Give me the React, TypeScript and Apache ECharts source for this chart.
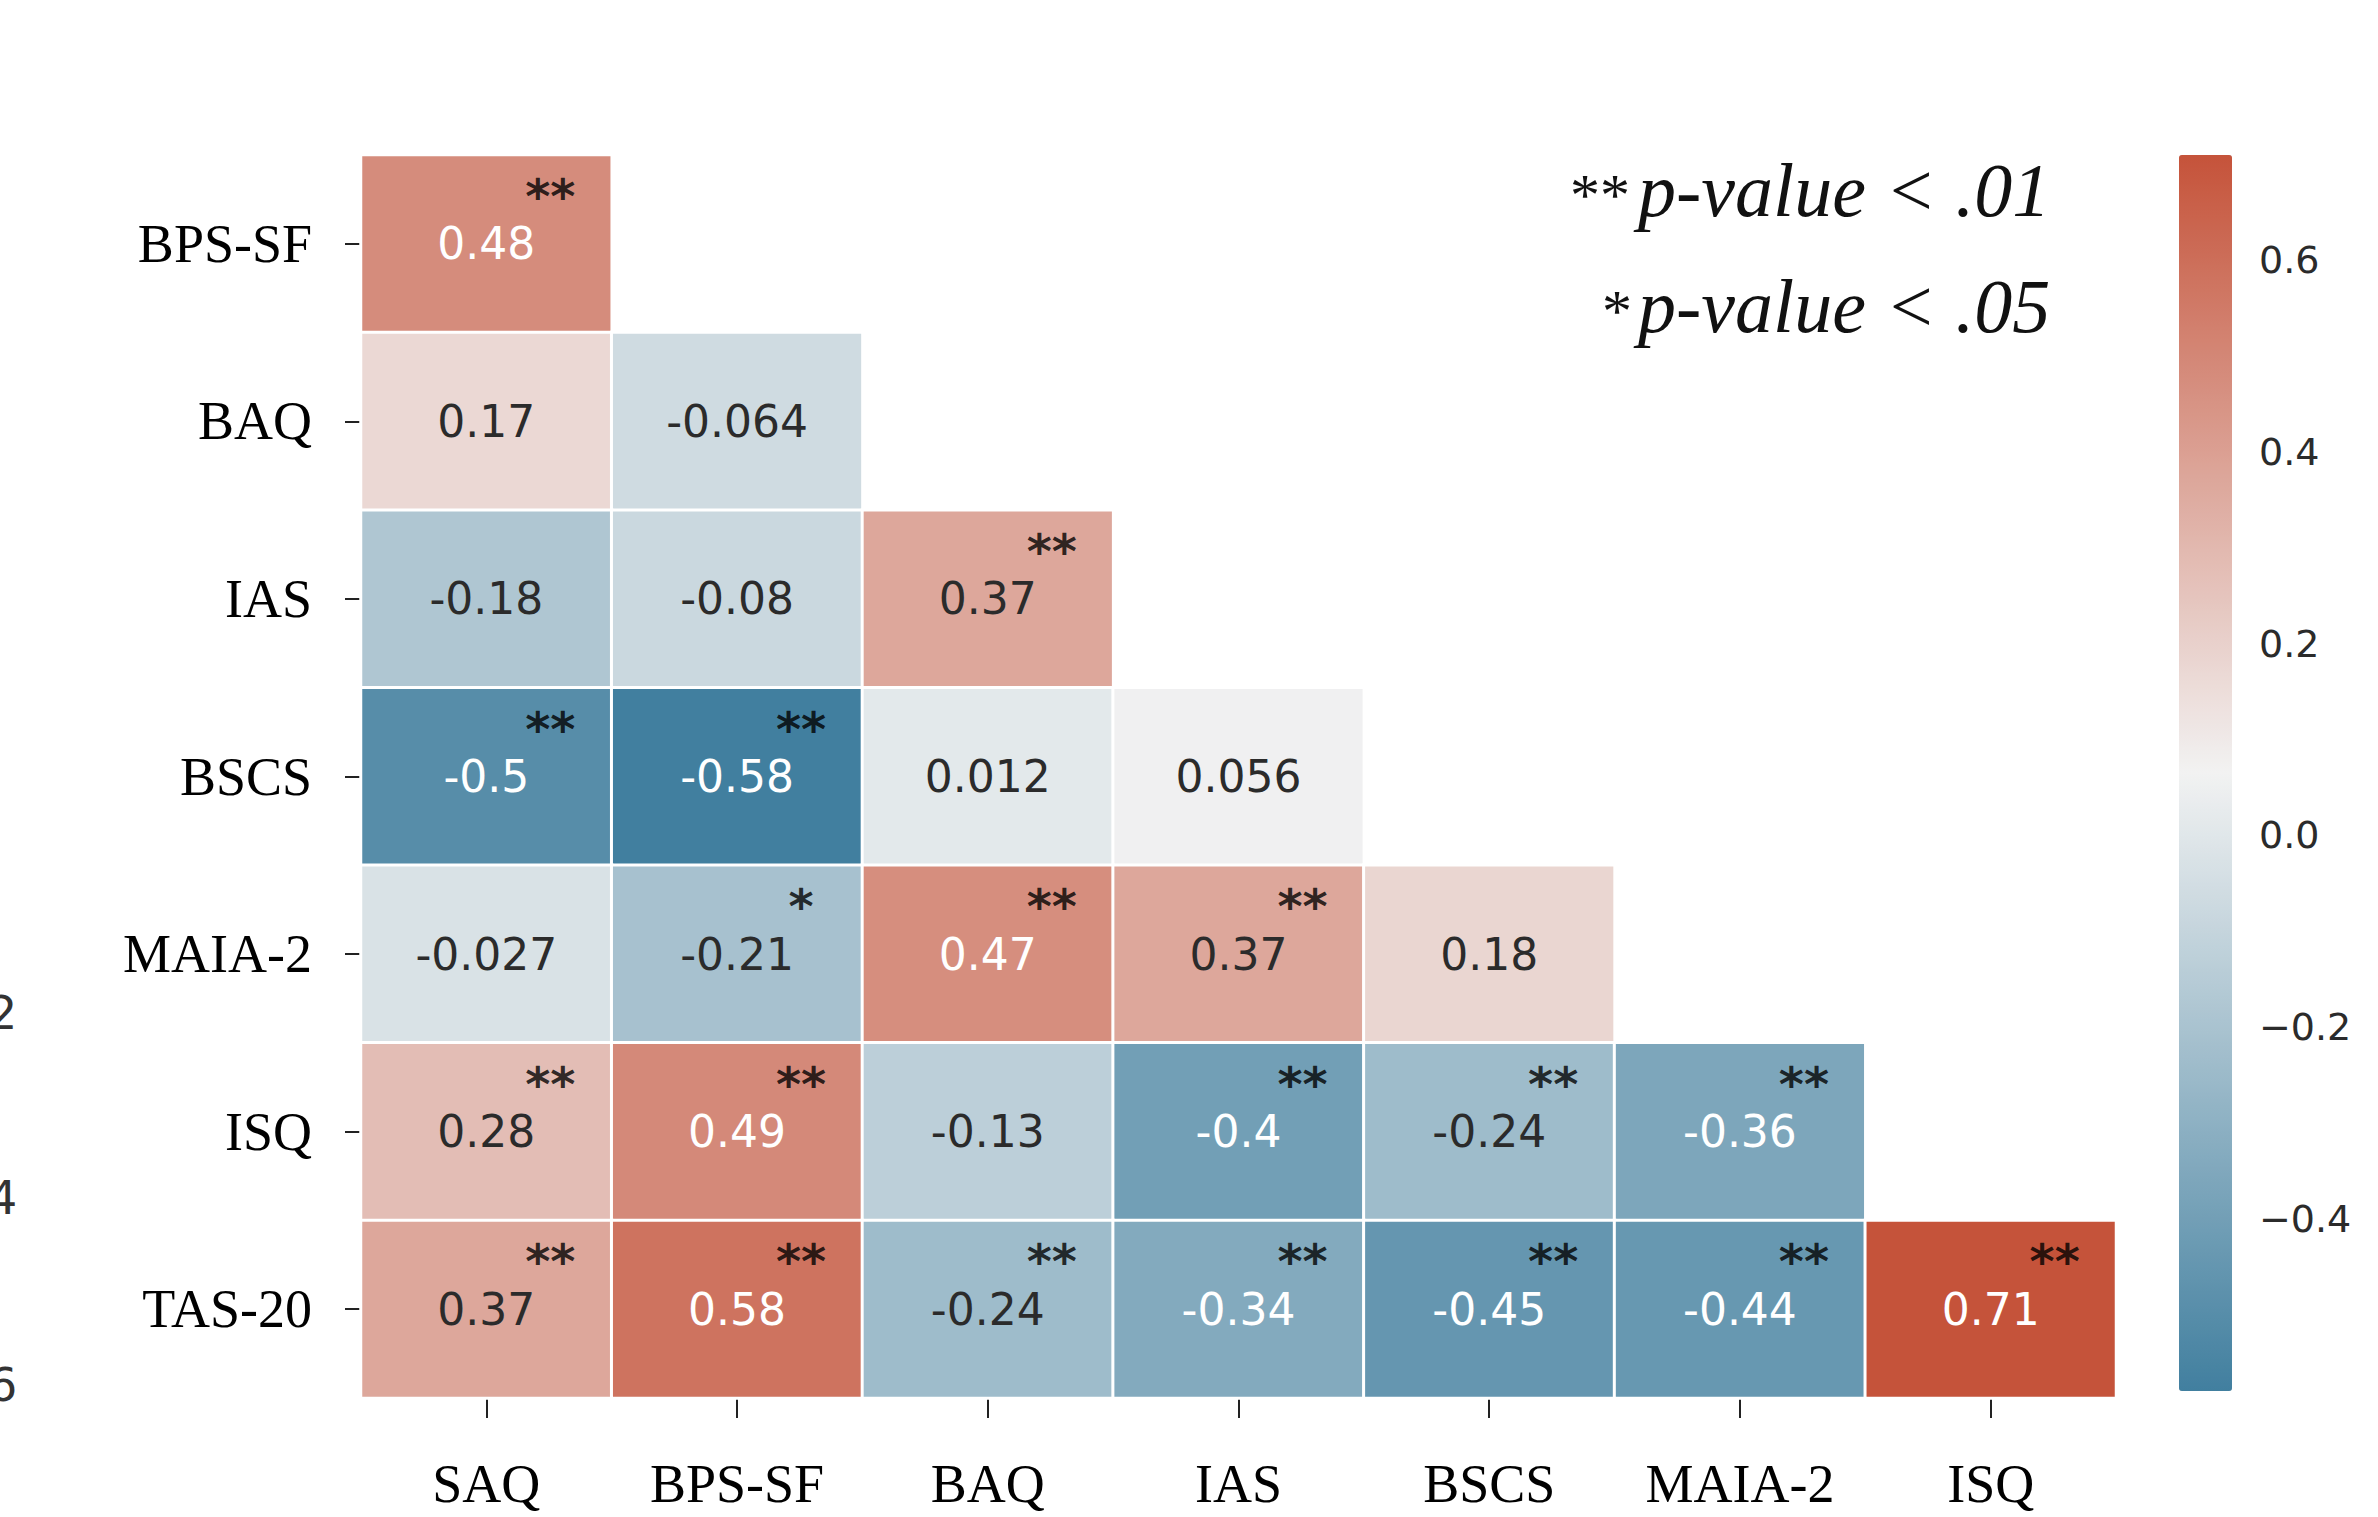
import React, { useEffect, useRef } from "react";
import * as echarts from "echarts";

// ---- data ----
const rowLabels = ["BPS-SF", "BAQ", "IAS", "BSCS", "MAIA-2", "ISQ", "TAS-20"];
const colLabels = ["SAQ", "BPS-SF", "BAQ", "IAS", "BSCS", "MAIA-2", "ISQ"];

const rBPSSF = [0.48];
const rBAQ = [0.17, -0.064];
const rIAS = [-0.18, -0.08, 0.37];
const rBSCS = [-0.5, -0.58, 0.012, 0.056];
const rMAIA2 = [-0.027, -0.21, 0.47, 0.37, 0.18];
const rISQ = [0.28, 0.49, -0.13, -0.4, -0.24, -0.36];
const rTAS20 = [0.37, 0.58, -0.24, -0.34, -0.45, -0.44, 0.71];

const sBPSSF = ["**"];
const sBAQ = ["", ""];
const sIAS = ["", "", "**"];
const sBSCS = ["**", "**", "", ""];
const sMAIA2 = ["", "*", "**", "**", ""];
const sISQ = ["**", "**", "", "**", "**", "**"];
const sTAS20 = ["**", "**", "**", "**", "**", "**", "**"];

const colorbarTicks = [-0.4, -0.2, 0, 0.2, 0.4, 0.6];
const colorMin = -0.58;
const colorMax = 0.71;

const valueRows = [rBPSSF, rBAQ, rIAS, rBSCS, rMAIA2, rISQ, rTAS20];
const starRows = [sBPSSF, sBAQ, sIAS, sBSCS, sMAIA2, sISQ, sTAS20];

export default function App() {
  const ref = useRef<HTMLDivElement>(null);

  useEffect(() => {
    if (!ref.current) return;
    const chart = echarts.init(ref.current, null, { renderer: "svg" });

    const heatData: any[] = [];
    valueRows.forEach((row, r) => {
      row.forEach((v, c) => {
        const light = v > 0.4 || v < -0.3;
        heatData.push({
          value: [c, r, v],
          label: { color: light ? "#ffffff" : "#2b2b2b" },
        });
      });
    });
    const starData: any[] = [];
    starRows.forEach((row, r) => {
      row.forEach((s, c) => {
        if (s) starData.push([c, r, s]);
      });
    });

    const gridL = 361, gridT = 155, gridW = 1755, gridH = 1243;
    const cbL = 2179, cbT = 155, cbW = 53, cbH = 1236;

    chart.setOption({
      animation: false,
      backgroundColor: "#ffffff",
      grid: [
        { left: gridL, top: gridT, width: gridW, height: gridH },
        { left: cbL, top: cbT, width: cbW, height: cbH },
      ],
      xAxis: [
        {
          type: "category",
          data: colLabels,
          gridIndex: 0,
          position: "bottom",
          axisLine: { show: false },
          splitLine: { show: false },
          axisTick: {
            show: true,
            alignWithLabel: true,
            length: 20,
            lineStyle: { color: "#222", width: 2 },
          },
          axisLabel: {
            fontFamily: "Liberation Serif",
            fontSize: 54,
            color: "#000",
            margin: 59,
          },
        },
        { type: "value", gridIndex: 1, show: false, min: 0, max: 1 },
      ],
      yAxis: [
        {
          type: "category",
          data: rowLabels,
          gridIndex: 0,
          inverse: true,
          axisLine: { show: false },
          splitLine: { show: false },
          axisTick: {
            show: true,
            alignWithLabel: true,
            length: 16,
            lineStyle: { color: "#222", width: 2 },
          },
          axisLabel: {
            fontFamily: "Liberation Serif",
            fontSize: 54,
            color: "#000",
            margin: 49,
          },
        },
        {
          type: "value",
          gridIndex: 1,
          min: colorMin,
          max: colorMax,
          position: "right",
          axisLine: { show: false },
          splitLine: { show: false },
          axisTick: {
            show: true,
            length: 15,
            customValues: colorbarTicks,
            lineStyle: { color: "#333", width: 2 },
          },
          axisLabel: {
            customValues: colorbarTicks,
            margin: 27,
            fontFamily: "DejaVu Sans",
            fontSize: 38,
            color: "#2b2b2b",
            formatter: (v: number) => v.toFixed(1).replace("-", "\u2212"),
          },
        },
      ],
      visualMap: {
        type: "continuous",
        min: colorMin,
        max: colorMax,
        seriesIndex: 0,
        show: true,
        calculable: false,
        left: cbL,
        top: cbT,
        padding: 0,
        itemWidth: cbW,
        itemHeight: cbH,
        text: ["", ""],
        inRange: { color: ["#417f9f", "#f2f2f2", "#c5533a"] },
      },
      series: [
        {
          type: "heatmap",
          xAxisIndex: 0,
          yAxisIndex: 0,
          data: heatData,
          itemStyle: { borderColor: "#ffffff", borderWidth: 3 },
          label: {
            show: true,
            fontFamily: "DejaVu Sans",
            fontSize: 44,
            formatter: (p: any) => String(p.value[2]),
          },
          emphasis: { disabled: true },
        },
        {
          type: "scatter",
          xAxisIndex: 0,
          yAxisIndex: 0,
          symbolSize: 0,
          data: starData,
          label: {
            show: true,
            position: "inside",
            offset: [64, -48],
            fontFamily: "DejaVu Sans",
            fontWeight: "bold",
            fontSize: 48,
            color: "#000",
            formatter: (p: any) => p.value[2],
          },
          emphasis: { disabled: true },
          silent: true,
        },
        {
          type: "scatter",
          xAxisIndex: 1,
          yAxisIndex: 1,
          data: [],
        },
      ],
      graphic: [
        {
          type: "text",
          left: 1570,
          top: 165,
          style: { text: "**", font: "60px 'Liberation Serif'", fill: "#111" },
        },
        {
          type: "text",
          left: 1602,
          top: 281,
          style: { text: "*", font: "60px 'Liberation Serif'", fill: "#111" },
        },
        {
          type: "text",
          left: 1638,
          top: 152,
          style: {
            text: "p-value < .01",
            font: "italic 76px 'Liberation Serif'",
            fill: "#111",
          },
        },
        {
          type: "text",
          left: 1638,
          top: 268,
          style: {
            text: "p-value < .05",
            font: "italic 76px 'Liberation Serif'",
            fill: "#111",
          },
        },
        {
          type: "text",
          left: -12,
          top: 990,
          style: { text: "2", font: "46px 'DejaVu Sans'", fill: "#333" },
        },
        {
          type: "text",
          left: -12,
          top: 1175,
          style: { text: "4", font: "46px 'DejaVu Sans'", fill: "#333" },
        },
        {
          type: "text",
          left: -12,
          top: 1362,
          style: { text: "6", font: "46px 'DejaVu Sans'", fill: "#333" },
        },
      ],
    });

    return () => chart.dispose();
  }, []);

  return (
    <div
      ref={ref}
      style={{
        position: "fixed",
        left: 0,
        top: 0,
        width: 2378,
        height: 1517,
        background: "#fff",
      }}
    />
  );
}
